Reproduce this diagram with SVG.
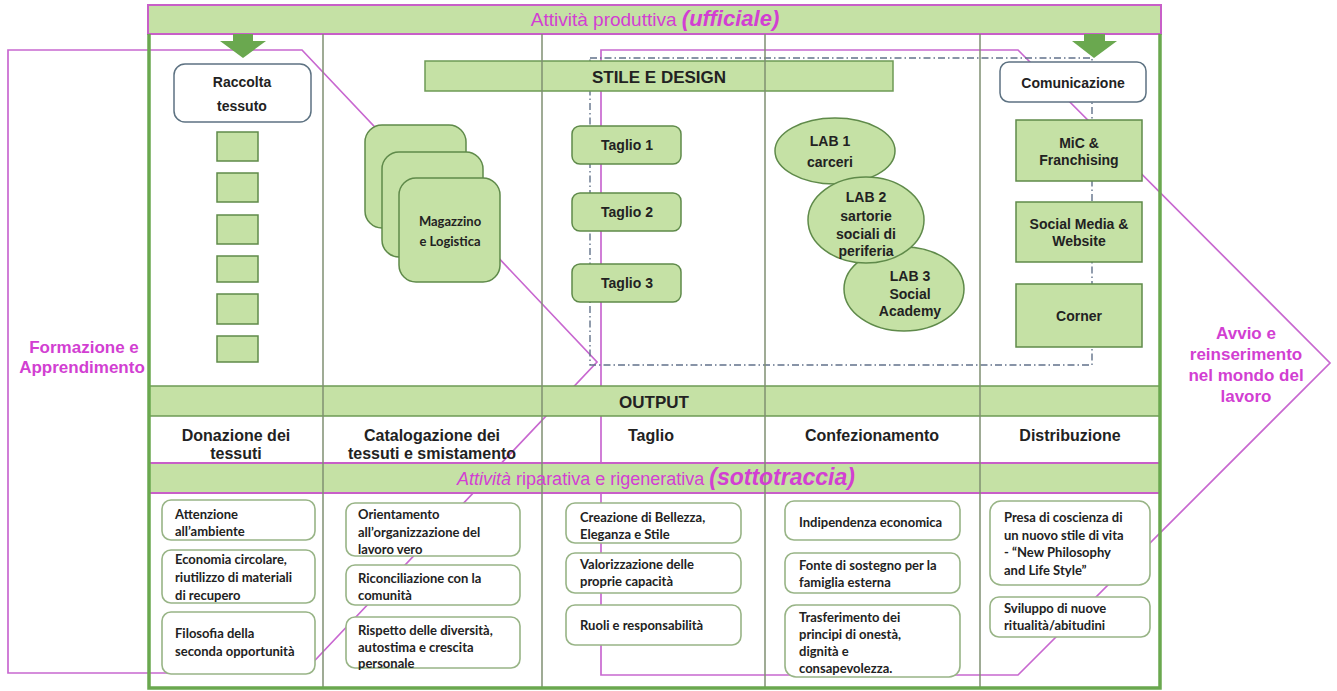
<svg xmlns="http://www.w3.org/2000/svg" width="1337" height="691" viewBox="0 0 1337 691">
<defs>
<style>
.pink{fill:none;stroke:#c868d0;stroke-width:1.7}
.dash{fill:none;stroke:#62728a;stroke-width:1.4;stroke-dasharray:7 3 1.5 3}
.bar{fill:#c5e1a5;stroke:#6d9a55;stroke-width:1.5}
.pbar{fill:#c5e1a5;stroke:#c85fc8;stroke-width:2}
.div{stroke:#7f8f72;stroke-width:1.5}
.frame{stroke:#6aa84f;stroke-width:3.5;fill:none}
.gbox{fill:#c5e1a5;stroke:#5f8a4a;stroke-width:1.5}
.wbox{fill:#fff;stroke:#5d7282;stroke-width:1.5}
.tbox{fill:#fff;stroke:#98b486;stroke-width:1.6}
.arrow{fill:#6aa84f}
.h{font-family:"Liberation Sans",Arial,sans-serif;font-weight:bold;fill:#222;text-anchor:middle}
.c{font-family:Lato,"Open Sans",sans-serif;font-weight:bold;font-size:13px;fill:#222}
.pk{font-family:"Liberation Sans",Arial,sans-serif;fill:#d23fd2;text-anchor:middle}
</style>
</defs>

<g id="connectors">
<polygon id="pink-formazione" class="pink" points="8,50 302,50 597,362 303,673 8,673"/>
<polygon id="pink-avvio" class="pink" points="601,50 1018,50 1330,363 1018,675 601,675"/>
<rect id="dashdot" class="dash" x="590" y="58" width="502" height="307"/>
</g>

<g id="bars">
<rect id="top-bar" class="pbar" x="148" y="5" width="1013" height="29"/>
<rect id="stile-bar" class="bar" x="425" y="61" width="468" height="30"/>
<rect id="output-bar" class="bar" x="149" y="386" width="1011" height="30"/>
<rect id="ripar-bar" class="pbar" x="149" y="463" width="1011" height="30"/>
</g>

<g id="dividers">
<line class="div" x1="323" y1="34" x2="323" y2="688"/>
<line class="div" x1="542" y1="34" x2="542" y2="688"/>
<line class="div" x1="765" y1="34" x2="765" y2="688"/>
<line class="div" x1="980" y1="34" x2="980" y2="688"/>
</g>

<g id="frame">
<polyline class="frame" points="149,34 149,688 1160,688 1160,34"/>
</g>

<g id="titles">
<text class="pk" x="655" y="26"><tspan font-size="19">Attività produttiva </tspan><tspan font-size="22" font-weight="bold" font-style="italic">(ufficiale)</tspan></text>
<text class="h" x="659" y="83" font-size="17">STILE E DESIGN</text>
<text class="h" x="654" y="408" font-size="17">OUTPUT</text>
<text class="pk" x="656" y="485"><tspan font-size="18" font-style="italic">Attività</tspan><tspan font-size="18"> riparativa e rigenerativa </tspan><tspan font-size="23" font-weight="bold" font-style="italic">(sottotraccia)</tspan></text>
<text class="h" font-size="16"><tspan x="236" y="441">Donazione dei</tspan><tspan x="236" y="459">tessuti</tspan></text>
<text class="h" font-size="16"><tspan x="432" y="441">Catalogazione dei</tspan><tspan x="432" y="459">tessuti e smistamento</tspan></text>
<text class="h" font-size="16" x="651" y="441">Taglio</text>
<text class="h" font-size="16" x="872" y="441">Confezionamento</text>
<text class="h" font-size="16" x="1070" y="441">Distribuzione</text>
<text class="pk" font-size="17" font-weight="bold"><tspan x="84" y="353">Formazione e</tspan><tspan x="82" y="373">Apprendimento</tspan></text>
<text class="pk" font-size="17" font-weight="bold"><tspan x="1246" y="339">Avvio e</tspan><tspan x="1246" y="360">reinserimento</tspan><tspan x="1246" y="381">nel mondo del</tspan><tspan x="1246" y="402">lavoro</tspan></text>
</g>

<g id="arrow-left"><rect class="arrow" x="233" y="34" width="20" height="8"/><polygon class="arrow" points="220,41 266,41 243,58"/></g>
<g id="arrow-right"><rect class="arrow" x="1084" y="34" width="21" height="8"/><polygon class="arrow" points="1072,41 1117,41 1094,58"/></g>

<g id="raccolta"><rect class="wbox" x="174" y="64" width="137" height="58" rx="11"/><text class="h" font-size="14"><tspan x="242" y="87">Raccolta</tspan><tspan x="242" y="111">tessuto</tspan></text></g>
<g id="sq1"><rect class="gbox" x="217" y="132" width="41" height="29"/></g>
<g id="sq2"><rect class="gbox" x="217" y="173" width="41" height="29"/></g>
<g id="sq3"><rect class="gbox" x="217" y="215" width="41" height="29"/></g>
<g id="sq4"><rect class="gbox" x="217" y="256" width="41" height="26"/></g>
<g id="sq5"><rect class="gbox" x="217" y="294" width="41" height="30"/></g>
<g id="sq6"><rect class="gbox" x="217" y="336" width="41" height="26"/></g>

<g id="magazzino">
<rect class="gbox" x="365" y="125" width="101" height="103" rx="17"/>
<rect class="gbox" x="382" y="152" width="101" height="105" rx="17"/>
<rect class="gbox" x="399" y="178" width="101" height="104" rx="17"/>
<text class="c" text-anchor="middle"><tspan x="450" y="226">Magazzino</tspan><tspan x="450" y="246">e Logistica</tspan></text>
</g>

<g id="taglio1"><rect class="gbox" x="572" y="126" width="109" height="38" rx="8"/><text class="h" font-size="14" x="627" y="150">Taglio 1</text></g>
<g id="taglio2"><rect class="gbox" x="572" y="193" width="109" height="38" rx="8"/><text class="h" font-size="14" x="627" y="217">Taglio 2</text></g>
<g id="taglio3"><rect class="gbox" x="572" y="264" width="109" height="38" rx="8"/><text class="h" font-size="14" x="627" y="288">Taglio 3</text></g>

<g id="lab1"><ellipse class="gbox" cx="835" cy="151" rx="60" ry="33"/><text class="h" font-size="14"><tspan x="830" y="146">LAB 1</tspan><tspan x="830" y="167">carceri</tspan></text></g>
<g id="lab3"><ellipse class="gbox" cx="904" cy="289" rx="60" ry="42"/><text class="h" font-size="14"><tspan x="910" y="281">LAB 3</tspan><tspan x="910" y="299">Social</tspan><tspan x="910" y="316">Academy</tspan></text></g>
<g id="lab2"><ellipse class="gbox" cx="866" cy="220" rx="58" ry="43"/><text class="h" font-size="14"><tspan x="866" y="202">LAB 2</tspan><tspan x="866" y="221">sartorie</tspan><tspan x="866" y="239">sociali di</tspan><tspan x="866" y="256">periferia</tspan></text></g>

<g id="comunicazione"><rect class="wbox" x="1000" y="62" width="146" height="40" rx="9"/><text class="h" font-size="14" x="1073" y="88">Comunicazione</text></g>
<g id="mic"><rect class="gbox" x="1016" y="120" width="126" height="61"/><text class="h" font-size="14"><tspan x="1079" y="148">MiC &amp;</tspan><tspan x="1079" y="165">Franchising</tspan></text></g>
<g id="social"><rect class="gbox" x="1016" y="202" width="126" height="60"/><text class="h" font-size="14"><tspan x="1079" y="229">Social Media &amp;</tspan><tspan x="1079" y="246">Website</tspan></text></g>
<g id="corner"><rect class="gbox" x="1016" y="284" width="126" height="63"/><text class="h" font-size="14" x="1079" y="321">Corner</text></g>

<g id="b-attenzione"><rect class="tbox" x="162" y="500" width="153" height="40" rx="9"/><text class="c"><tspan x="175" y="519">Attenzione</tspan><tspan x="175" y="536">all’ambiente</tspan></text></g>
<g id="b-economia"><rect class="tbox" x="162" y="550" width="153" height="53" rx="9"/><text class="c"><tspan x="175" y="564">Economia circolare,</tspan><tspan x="175" y="582">riutilizzo di materiali</tspan><tspan x="175" y="600">di recupero</tspan></text></g>
<g id="b-filosofia"><rect class="tbox" x="162" y="612" width="153" height="62" rx="9"/><text class="c"><tspan x="175" y="638">Filosofia della</tspan><tspan x="175" y="656">seconda opportunità</tspan></text></g>

<g id="b-orientamento"><rect class="tbox" x="346" y="503" width="174" height="53" rx="9"/><text class="c"><tspan x="358" y="519">Orientamento</tspan><tspan x="358" y="537">all’organizzazione del</tspan><tspan x="358" y="554">lavoro vero</tspan></text></g>
<g id="b-riconciliazione"><rect class="tbox" x="346" y="565" width="174" height="40" rx="9"/><text class="c"><tspan x="358" y="583">Riconciliazione con la</tspan><tspan x="358" y="600">comunità</tspan></text></g>
<g id="b-rispetto"><rect class="tbox" x="346" y="617" width="174" height="51" rx="9"/><text class="c"><tspan x="358" y="635">Rispetto delle diversità,</tspan><tspan x="358" y="652">autostima e crescita</tspan><tspan x="358" y="668">personale</tspan></text></g>

<g id="b-creazione"><rect class="tbox" x="566" y="503" width="175" height="40" rx="9"/><text class="c"><tspan x="580" y="522">Creazione di Bellezza,</tspan><tspan x="580" y="539">Eleganza e Stile</tspan></text></g>
<g id="b-valorizzazione"><rect class="tbox" x="566" y="553" width="175" height="40" rx="9"/><text class="c"><tspan x="580" y="569">Valorizzazione delle</tspan><tspan x="580" y="586">proprie capacità</tspan></text></g>
<g id="b-ruoli"><rect class="tbox" x="566" y="605" width="175" height="40" rx="9"/><text class="c" x="580" y="630">Ruoli e responsabilità</text></g>

<g id="b-indipendenza"><rect class="tbox" x="785" y="501" width="175" height="39" rx="9"/><text class="c" x="799" y="527">Indipendenza economica</text></g>
<g id="b-fonte"><rect class="tbox" x="785" y="553" width="175" height="40" rx="9"/><text class="c"><tspan x="799" y="570">Fonte di sostegno per la</tspan><tspan x="799" y="587">famiglia esterna</tspan></text></g>
<g id="b-trasferimento"><rect class="tbox" x="785" y="605" width="175" height="72" rx="11"/><text class="c"><tspan x="799" y="622">Trasferimento dei</tspan><tspan x="799" y="639">principi di onestà,</tspan><tspan x="799" y="656">dignità e</tspan><tspan x="799" y="673">consapevolezza.</tspan></text></g>

<g id="b-presa"><rect class="tbox" x="990" y="501" width="160" height="84" rx="11"/><text class="c"><tspan x="1004" y="522">Presa di coscienza di</tspan><tspan x="1004" y="540">un nuovo stile di vita</tspan><tspan x="1004" y="557">- “New Philosophy</tspan><tspan x="1004" y="575">and Life Style”</tspan></text></g>
<g id="b-sviluppo"><rect class="tbox" x="990" y="597" width="160" height="40" rx="9"/><text class="c"><tspan x="1004" y="613">Sviluppo di nuove</tspan><tspan x="1004" y="630">ritualità/abitudini</tspan></text></g>
</svg>
